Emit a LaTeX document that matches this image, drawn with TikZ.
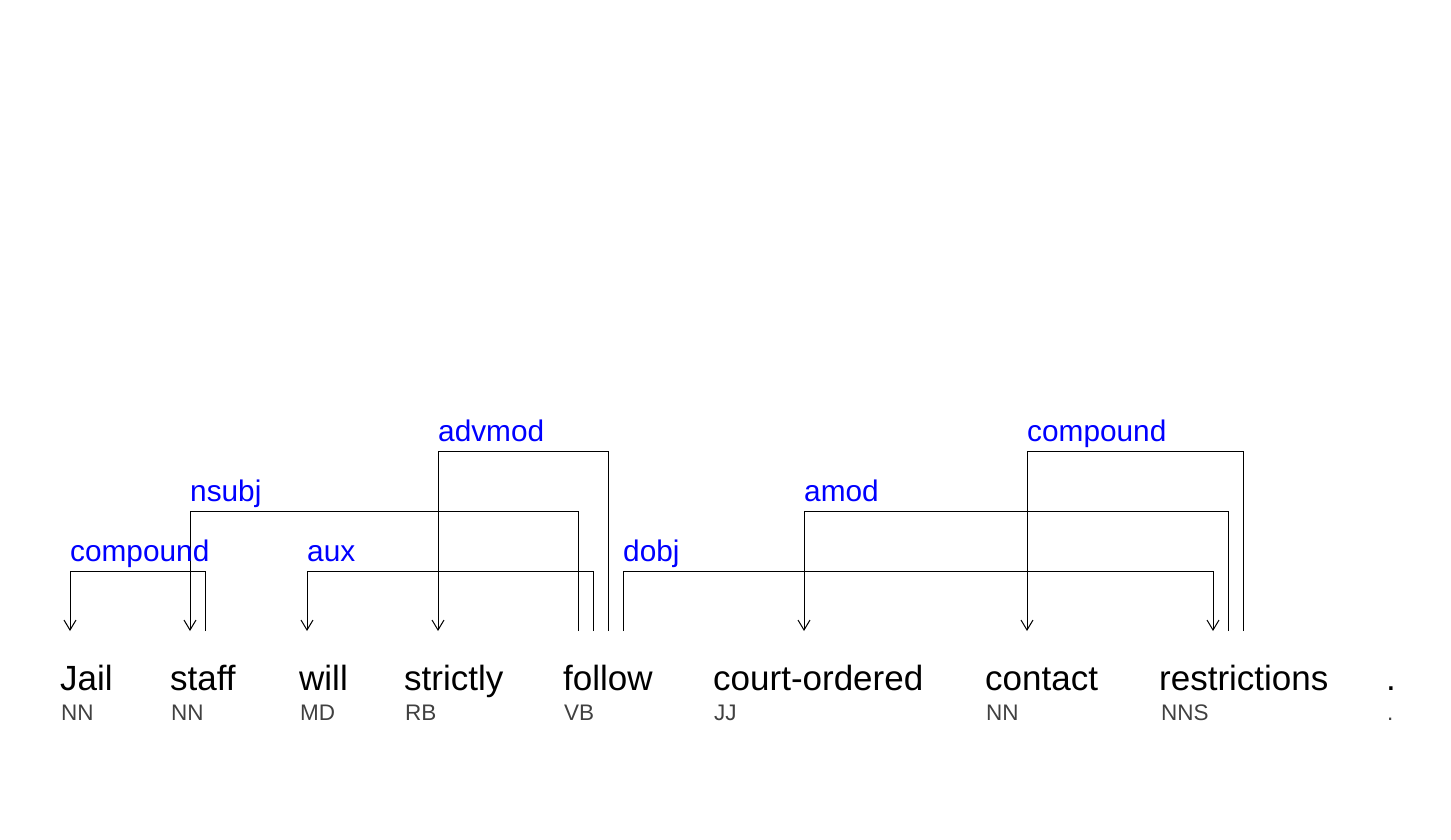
\documentclass[tikz,border=0pt]{standalone}
\usepackage{fontspec}
\setmainfont{Liberation Sans}
\usepackage{xcolor}
\usepackage{tikz}
\usetikzlibrary{arrows.meta}
\definecolor{tagGray}{HTML}{404040}
\definecolor{relBlue}{HTML}{0000FF}
\tikzstyle{word} = [anchor=base west, inner sep=0pt, font=\fontsize{35}{35}\selectfont]
\tikzstyle{tag} = [anchor=base west, inner sep=0pt, text=tagGray, font=\fontsize{22.5}{22.5}\selectfont]
\tikzstyle{rel} = [anchor=base west, inner sep=0pt, text=relBlue, font=\fontsize{29.8}{29.8}\selectfont]
\tikzstyle{arrow} = [line width=1pt,->,>={Straight Barb[length=10pt,width=12pt]}]

\begin{document}
\begin{tikzpicture}[x=1pt,y=-1pt]
\useasboundingbox (0,0) rectangle (1451,840);

% words
\node (jail) [word] at (60,690) {Jail};
\node (staff) [word] at (170,690) {staff};
\node (will) [word] at (299,690) {will};
\node (strictly) [word] at (404,690) {strictly};
\node (follow) [word] at (563,690) {follow};
\node (court) [word] at (713,690) {court-ordered};
\node (contact) [word] at (985,690) {contact};
\node (restr) [word] at (1159,690) {restrictions};
\node (dot) [word] at (1386,690) {.};

% tags
\node (jailTag) [tag] at (61,720) {NN};
\node (staffTag) [tag] at (171,720) {NN};
\node (willTag) [tag] at (300,720) {MD};
\node (strictlyTag) [tag] at (405,720) {RB};
\node (followTag) [tag] at (564,720) {VB};
\node (courtTag) [tag] at (714,720) {JJ};
\node (contactTag) [tag] at (986,720) {NN};
\node (restrTag) [tag] at (1161,720) {NNS};
\node (dotTag) [tag] at (1387,720) {.};

% arc ends
\coordinate (jailIn) at (70,631);
\coordinate (staffIn) at (190,631);
\coordinate (staffOut) at (205,631);
\coordinate (willIn) at (307,631);
\coordinate (strictlyIn) at (438,631);
\coordinate (followA) at (578,631);
\coordinate (followB) at (593,631);
\coordinate (followC) at (608,631);
\coordinate (followD) at (623,631);
\coordinate (courtIn) at (804,631);
\coordinate (contactIn) at (1027,631);
\coordinate (restrIn) at (1213,631);
\coordinate (restrA) at (1228,631);
\coordinate (restrB) at (1243,631);

% arcs
\draw [arrow] (staffOut) -- ++(0,-60) -| (jailIn);
\draw [arrow] (followA) -- ++(0,-120) -| (staffIn);
\draw [arrow] (followB) -- ++(0,-60) -| (willIn);
\draw [arrow] (followC) -- ++(0,-180) -| (strictlyIn);
\draw [arrow] (followD) -- ++(0,-60) -| (restrIn);
\draw [arrow] (restrA) -- ++(0,-120) -| (courtIn);
\draw [arrow] (restrB) -- ++(0,-180) -| (contactIn);

% labels
\node (compoundA) [rel] at (70,561) {compound};
\node (nsubj) [rel] at (190,501) {nsubj};
\node (aux) [rel] at (307,561) {aux};
\node (advmod) [rel] at (438,441) {advmod};
\node (dobj) [rel] at (623,561) {dobj};
\node (amod) [rel] at (804,501) {amod};
\node (compoundB) [rel] at (1027,441) {compound};

\end{tikzpicture}
\end{document}
